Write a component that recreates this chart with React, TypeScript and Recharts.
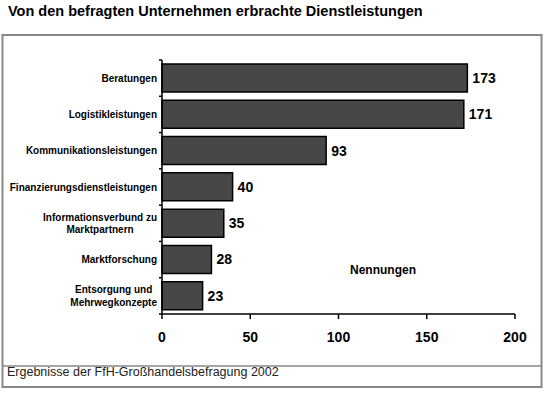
import React from "react";
import { BarChart, Bar, XAxis, YAxis, LabelList } from "recharts";

const categories = [
  "Beratungen",
  "Logistikleistungen",
  "Kommunikationsleistungen",
  "Finanzierungsdienstleistungen",
  "Informationsverbund zu\nMarktpartnern",
  "Marktforschung",
  "Entsorgung und\nMehrwegkonzepte",
];
const values = [173, 171, 93, 40, 35, 28, 23];
const xTicks = [0, 50, 100, 150, 200];

const title = "Von den befragten Unternehmen erbrachte Dienstleistungen";
const footer = "Ergebnisse der FfH-Großhandelsbefragung 2002";
const axisTitle = "Nennungen";

const data = categories.map((name, i) => ({ name, value: values[i] }));

const FONT = "'Liberation Sans', Arial, Helvetica, sans-serif";

let ctx: CanvasRenderingContext2D | null = null;
const measure = (s: string) => {
  try {
    if (!ctx) ctx = document.createElement("canvas").getContext("2d");
    if (ctx) {
      ctx.font = `bold 10px ${FONT}`;
      return ctx.measureText(s).width;
    }
  } catch (e) {}
  return s.length * 5.3;
};

const CatTick = (props: any) => {
  const { x, y, payload, index } = props;
  const half = payload && payload.offset ? payload.offset : 18.1;
  const lines: string[] = String(payload.value).split("\n");
  const lh = 12.5;
  const estW = Math.max(...lines.map((l) => measure(l)));
  const startY = y - ((lines.length - 1) * lh) / 2;
  return (
    <g>
      <line x1={x + 2} x2={x + 5} y1={y - half} y2={y - half} stroke="#000" strokeWidth={1.5} />
      {index === categories.length - 1 && (
        <line x1={x + 2} x2={x + 5} y1={y + half} y2={y + half} stroke="#000" strokeWidth={1.5} />
      )}
      {lines.map((l, i) => (
        <text
          key={i}
          x={lines.length > 1 ? x - estW / 2 : x}
          y={startY + i * lh}
          dy="0.35em"
          textAnchor={lines.length > 1 ? "middle" : "end"}
          fontFamily={FONT}
          fontWeight="bold"
          fontSize={10}
          fill="#000"
        >
          {l}
        </text>
      ))}
    </g>
  );
};

export default function App() {
  return (
    <div style={{ position: "absolute", left: 0, top: 0, width: 545, height: 395, background: "#fff" }}>
      <svg width={545} height={395} style={{ position: "absolute", left: 0, top: 0 }}>
        <text x={8} y={16} fontFamily={FONT} fontWeight="bold" fontSize={14.5} fill="#000">
          {title}
        </text>
        <rect x={2.5} y={35} width={539} height={352} fill="#fff" stroke="#888" strokeWidth={2} />
        <line x1={2.5} x2={541.5} y1={366} y2={366} stroke="#888" strokeWidth={1.5} />
        <text x={7} y={376} fontFamily={FONT} fontSize={12.5} fill="#222">
          {footer}
        </text>
        <text x={383} y={274} textAnchor="middle" fontFamily={FONT} fontWeight="bold" fontSize={12} fill="#000">
          {axisTitle}
        </text>
      </svg>
      <div style={{ position: "absolute", left: 0, top: 0 }}>
        <BarChart
          width={545}
          height={395}
          data={data}
          layout="vertical"
          margin={{ top: 60, right: 30, bottom: 51, left: 0 }}
        >
          <XAxis
            type="number"
            domain={[0, 200]}
            ticks={xTicks}
            interval={0}
            height={30}
            tickSize={5}
            tickMargin={13}
            axisLine={{ stroke: "#000", strokeWidth: 1.5 }}
            tickLine={{ stroke: "#000", strokeWidth: 1.5 }}
            tick={{ fill: "#000", fontFamily: FONT, fontWeight: "bold", fontSize: 14 }}
          />
          <YAxis
            type="category"
            dataKey="name"
            width={162}
            interval={0}
            tickSize={3}
            tickMargin={2}
            axisLine={{ stroke: "#000", strokeWidth: 1.5 }}
            tickLine={false}
            tick={<CatTick />}
          />
          <Bar dataKey="value" barSize={28} fill="#474747" stroke="#000" strokeWidth={1.5} isAnimationActive={false}>
            <LabelList
              dataKey="value"
              position="right"
              offset={5}
              fill="#000"
              fontFamily={FONT}
              fontWeight="bold"
              fontSize={14}
            />
          </Bar>
        </BarChart>
      </div>
    </div>
  );
}
